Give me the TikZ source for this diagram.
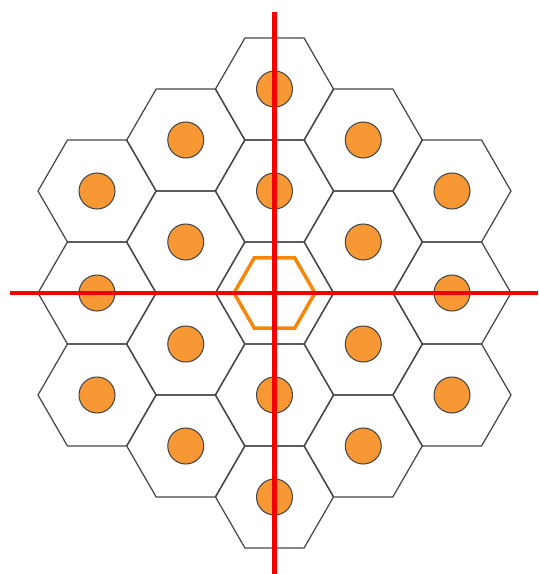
\documentclass[tikz,border=0pt]{standalone}
\usetikzlibrary{shapes.geometric}
\definecolor{Naranja}  {RGB}{247,152,52}
\definecolor{NaranjaOsc}{RGB}{245,135,10}
\definecolor{GrisHex}  {RGB}{70,70,70}
\definecolor{RojoEje}  {RGB}{245,0,0}

\begin{document}
\begin{tikzpicture}[x=0.02cm,y=-0.02cm,
    celda/.style={draw=GrisHex,line width=0.7pt,regular polygon,regular polygon sides=6,minimum size=2.36cm,inner sep=0pt,outer sep=0pt},
    antena/.style={circle,draw=GrisHex,fill=Naranja,line width=0.6pt,minimum size=0.72cm,inner sep=0pt},
    nucleo/.style={draw=NaranjaOsc,line width=2pt,regular polygon,regular polygon sides=6,minimum size=1.62cm,inner sep=0pt},
    eje/.style={draw=RojoEje,line width=2.3pt}]
  \useasboundingbox (0,0) rectangle (538,574);
  % celdas y antenas
  \foreach \c in {-2,...,2} {
    \pgfmathtruncatemacro{\n}{4-abs(\c)}
    \foreach \r in {0,...,\n} {
      \node[celda] (h\c\r) at ({274.5+88.75*\c},{293+102*(\r-\n/2)}) {};
      \pgfmathtruncatemacro{\esc}{abs(\c)+abs(\r-2)}
      \ifnum\esc>0
        \node[antena] (a\c\r) at (h\c\r.center) {};
      \fi
    }
  }
  \node[nucleo] (cent) at (h02.center) {};
  % ejes
  \coordinate (ejeN) at (274.5,12);
  \coordinate (ejeS) at (274.5,574);
  \coordinate (ejeO) at (10,293);
  \coordinate (ejeE) at (538,293);
  \draw[eje] (ejeN) -- (ejeS);
  \draw[eje] (ejeO) -- (ejeE);
\end{tikzpicture}
\end{document}
